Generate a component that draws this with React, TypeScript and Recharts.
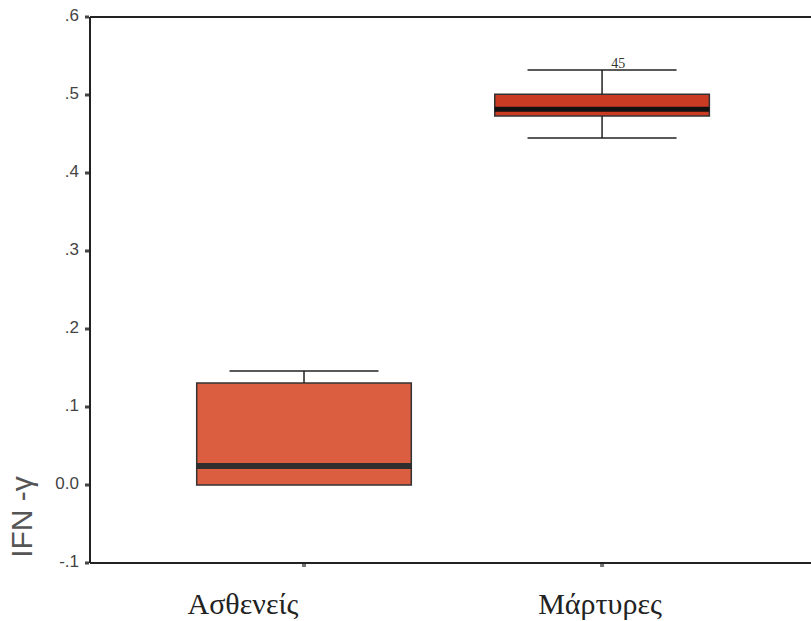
import React from "react";
import {
  ComposedChart,
  XAxis,
  YAxis,
  Scatter,
  ReferenceArea,
  ReferenceLine,
  ReferenceDot,
  Label,
} from "recharts";

const categories = ["Ασθενείς", "Μάρτυρες"];
const categoryPos = [1, 2];
const q1 = [0.0, 0.473];
const medians = [0.0244, 0.4817];
const q3 = [0.1308, 0.501];
const whiskerLow = [0.0, 0.445];
const whiskerHigh = [0.146, 0.532];
const boxFills = ["#dc5e40", "#c93b22"];
const outlierLabel = "45";
const outlierPos = { x: 2.054, y: 0.541 };

const yTicks = [-0.1, 0, 0.1, 0.2, 0.3, 0.4, 0.5, 0.6];
const yTickLabels = ["-.1", "0.0", ".1", ".2", ".3", ".4", ".5", ".6"];

const BOX_HALF = 0.36;
const CAP_HALF = 0.25;
const LABEL_DX = [-61, -2];

const data = categories.map((c, i) => ({ x: categoryPos[i], y: medians[i], name: c }));

const YTick = (props: any) => {
  const { y, payload } = props;
  const idx = yTicks.findIndex((t) => Math.abs(t - payload.value) < 1e-9);
  return (
    <g>
      <rect x={85} y={y - 1.5} width={4} height={3} fill="#444" />
      <text
        x={79}
        y={y - 2}
        dy="0.36em"
        textAnchor="end"
        fontFamily="'Liberation Sans', Arial, sans-serif"
        fontSize={17}
        fill="#444"
      >
        {idx >= 0 ? yTickLabels[idx] : ""}
      </text>
    </g>
  );
};

const XTick = (props: any) => {
  const { x, payload } = props;
  const idx = categoryPos.indexOf(payload.value);
  return (
    <g>
      <rect x={x - 2} y={564} width={4} height={3} fill="#777" />
      <text
        x={x + (idx >= 0 ? LABEL_DX[idx] : 0)}
        y={603}
        dy="0.36em"
        textAnchor="middle"
        fontFamily="'Liberation Serif', 'Times New Roman', serif"
        fontSize={30}
        fill="#222"
      >
        {idx >= 0 ? categories[idx] : ""}
      </text>
    </g>
  );
};

export default function App() {
  return (
    <div style={{ position: "absolute", left: 0, top: 0, width: 811, height: 621, background: "#fff", overflow: "hidden" }}>
      <ComposedChart
        width={811}
        height={621}
        margin={{ top: 17, right: 0, bottom: 0, left: 0 }}
        data={data}
      >
        <XAxis
          dataKey="x"
          type="number"
          domain={[0.282, 2.701]}
          ticks={categoryPos}
          allowDataOverflow
          height={58}
          axisLine={{ stroke: "#222", strokeWidth: 2 }}
          tickLine={false}
          tick={<XTick />}
          interval={0}
        />
        <YAxis
          dataKey="y"
          type="number"
          domain={[-0.1, 0.6]}
          ticks={yTicks}
          allowDataOverflow
          width={90}
          axisLine={{ stroke: "#222", strokeWidth: 2 }}
          tickLine={false}
          tick={<YTick />}
          interval={0}
        />
        <ReferenceLine y={0.6} stroke="#222" strokeWidth={2} ifOverflow="visible" />
        {categories.map((c, i) => (
          <React.Fragment key={c}>
            {whiskerHigh[i] > q3[i] && (
              <ReferenceLine
                segment={[
                  { x: categoryPos[i], y: q3[i] },
                  { x: categoryPos[i], y: whiskerHigh[i] },
                ]}
                stroke="#222"
                strokeWidth={1.5}
              />
            )}
            {whiskerLow[i] < q1[i] && (
              <ReferenceLine
                segment={[
                  { x: categoryPos[i], y: whiskerLow[i] },
                  { x: categoryPos[i], y: q1[i] },
                ]}
                stroke="#222"
                strokeWidth={1.5}
              />
            )}
            <ReferenceLine
              segment={[
                { x: categoryPos[i] - CAP_HALF, y: whiskerHigh[i] },
                { x: categoryPos[i] + CAP_HALF, y: whiskerHigh[i] },
              ]}
              stroke="#222"
              strokeWidth={1.5}
            />
            {whiskerLow[i] < q1[i] && (
              <ReferenceLine
                segment={[
                  { x: categoryPos[i] - CAP_HALF, y: whiskerLow[i] },
                  { x: categoryPos[i] + CAP_HALF, y: whiskerLow[i] },
                ]}
                stroke="#222"
                strokeWidth={1.5}
              />
            )}
            <ReferenceArea
              x1={categoryPos[i] - BOX_HALF}
              x2={categoryPos[i] + BOX_HALF}
              y1={q1[i]}
              y2={q3[i]}
              fill={boxFills[i]}
              fillOpacity={1}
              stroke="#333"
              strokeWidth={1.5}
            />
            <ReferenceLine
              segment={[
                { x: categoryPos[i] - BOX_HALF, y: medians[i] },
                { x: categoryPos[i] + BOX_HALF, y: medians[i] },
              ]}
              stroke={i === 0 ? "#2e2e2e" : "#111"}
              strokeWidth={i === 0 ? 6 : 5}
            />
          </React.Fragment>
        ))}
        <ReferenceDot x={outlierPos.x} y={outlierPos.y} r={0} fill="none" stroke="none">
          <Label
            value={outlierLabel}
            position="center"
            fontFamily="'Liberation Serif', 'Times New Roman', serif"
            fontSize={14}
            fill="#333"
          />
        </ReferenceDot>
        <Scatter data={data} dataKey="y" shape={() => <g />} isAnimationActive={false} />
      </ComposedChart>
      <div
        style={{
          position: "absolute",
          left: 22,
          top: 517,
          transform: "translate(-50%, -50%) rotate(-90deg)",
          fontFamily: "'Liberation Sans', Arial, sans-serif",
          fontSize: 30,
          color: "#555",
          whiteSpace: "nowrap",
          lineHeight: 1,
        }}
      >
        IFN -γ
      </div>
    </div>
  );
}
